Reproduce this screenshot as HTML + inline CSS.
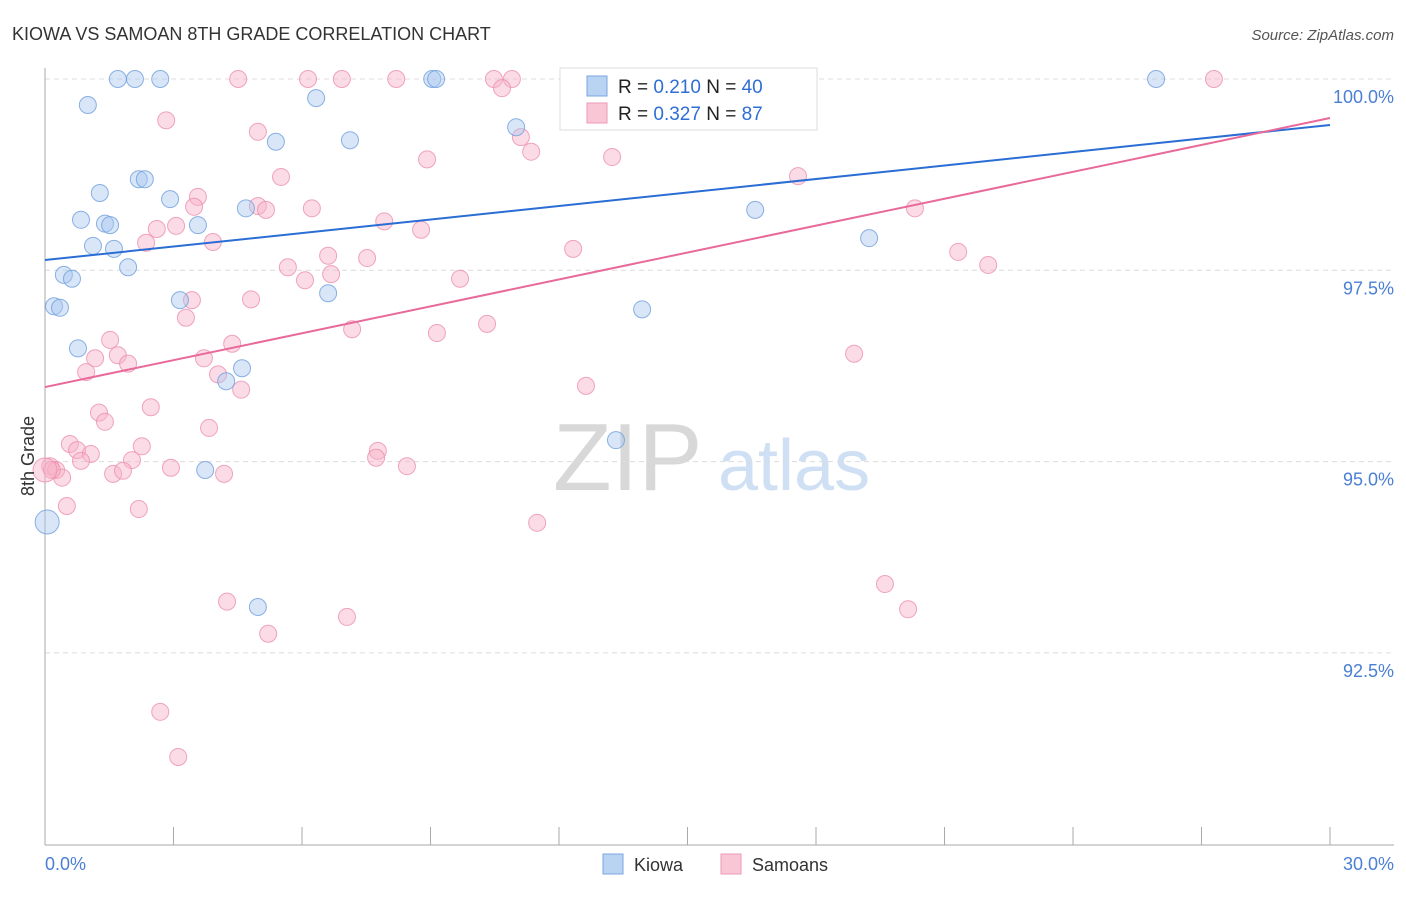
<!DOCTYPE html>
<html><head><meta charset="utf-8"><style>
body{margin:0;background:#fff;font-family:"Liberation Sans",sans-serif;}
svg text{font-family:"Liberation Sans",sans-serif;}
</style></head><body>
<svg id="chart" width="1406" height="892" xmlns="http://www.w3.org/2000/svg">
<text x="12" y="40" font-size="18" fill="#333">KIOWA VS SAMOAN 8TH GRADE CORRELATION CHART</text>
<text x="1394" y="40" font-size="15" fill="#555" text-anchor="end" font-style="italic">Source: ZipAtlas.com</text>
<g>
<text x="553" y="490" font-size="96" fill="#d8d8d8" font-family="Liberation Serif, serif">ZIP</text>
<text x="718" y="490" font-size="72" fill="#cfe0f4">atlas</text>
</g>
<g id="grid"></g><g id="axes"></g><g id="pts"></g><g id="lines"></g>
<text transform="translate(34,456) rotate(-90)" font-size="18" fill="#333" text-anchor="middle">8th Grade</text>
<text x="45" y="870" font-size="18" fill="#4a7fd4">0.0%</text>
<text x="1394" y="870" font-size="18" fill="#4a7fd4" text-anchor="end">30.0%</text>
<g>
<rect x="560" y="68" width="257" height="62" fill="#fff" stroke="#ddd"/>
<rect x="587" y="76" width="20" height="20" fill="#b9d3f3" stroke="#7aa6e0"/>
<rect x="587" y="103" width="20" height="20" fill="#f9c6d6" stroke="#ef9ab6"/>
<text x="618" y="93" font-size="19" fill="#222">R = <tspan fill="#2f6ed3">0.210</tspan>   N = <tspan fill="#2f6ed3">40</tspan></text>
<text x="618" y="120" font-size="19" fill="#222">R = <tspan fill="#2f6ed3">0.327</tspan>   N = <tspan fill="#2f6ed3"> 87</tspan></text>
</g>
<g>
<rect x="603" y="854" width="20" height="20" fill="#b9d3f3" stroke="#7aa6e0"/>
<text x="634" y="871" font-size="18" fill="#333">Kiowa</text>
<rect x="721" y="854" width="20" height="20" fill="#f9c6d6" stroke="#ef9ab6"/>
<text x="752" y="871" font-size="18" fill="#333">Samoans</text>
</g>
</svg>
<script>
const yTicks=[100,97.5,95,92.5];
const yTickLabels=["100.0%","97.5%","95.0%","92.5%"];
const xTicks=[0,3,6,9,12,15,18,21,24,27,30];
const kiowaX=[1.70,2.10,2.69,9.04,9.13,16.18,25.94,1.00,6.33,11.00,7.12,5.39,2.19,2.33,1.28,2.92,0.84,1.40,1.52,3.57,4.69,16.58,19.24,1.12,1.61,1.94,0.44,0.63,0.21,0.35,3.15,6.61,13.94,0.77,4.60,4.23,13.33,3.74,0.05,4.97];
const kiowaY=[100,100,100,100,100,100,100,99.66,99.75,99.37,99.20,99.18,98.69,98.69,98.51,98.43,98.16,98.11,98.09,98.09,98.31,98.29,97.92,97.82,97.78,97.54,97.44,97.39,97.03,97.01,97.11,97.20,96.99,96.48,96.22,96.05,95.28,94.89,94.21,93.10];
const samoanX=[4.51,6.14,6.93,8.20,10.48,10.90,14.01,27.29,10.67,2.83,4.97,11.11,11.35,8.92,13.24,5.51,17.58,3.57,3.48,4.97,5.16,6.23,20.31,7.92,8.78,2.61,3.06,2.36,3.92,12.33,21.32,6.61,7.52,5.67,22.02,6.07,6.68,9.69,3.43,4.81,3.29,7.17,9.15,10.32,1.52,4.37,1.17,1.70,1.94,3.71,0.96,4.04,4.58,12.63,18.89,2.47,1.26,1.40,3.83,0.58,0.75,1.07,2.26,7.77,0.84,2.03,7.73,2.94,8.45,0.12,0.26,0.40,1.59,1.82,4.18,0.51,2.19,11.49,19.61,4.25,20.15,7.05,5.21,2.69,3.11,0.16,0.0];
const samoanY=[100,100,100,100,100,100,100,100,99.88,99.46,99.31,99.24,99.05,98.95,98.98,98.72,98.73,98.46,98.33,98.34,98.29,98.31,98.31,98.14,98.03,98.04,98.08,97.86,97.87,97.78,97.74,97.69,97.66,97.54,97.57,97.37,97.45,97.39,97.11,97.12,96.88,96.73,96.68,96.80,96.59,96.54,96.35,96.39,96.28,96.35,96.17,96.14,95.94,95.99,96.41,95.71,95.64,95.52,95.44,95.23,95.15,95.10,95.20,95.14,95.01,95.02,95.05,94.92,94.94,94.94,94.89,94.79,94.84,94.88,94.84,94.42,94.38,94.20,93.40,93.17,93.07,92.97,92.75,91.73,91.14,94.89,94.89];
const kiowaTrend=[97.634,99.399];
const samoanTrend=[95.974,99.49];
const X0=45,X1=1330,Y100=79,PX=76.52;
const sx=v=>X0+(v/30)*(X1-X0);
const sy=v=>Y100+(100-v)*PX;
const NS="http://www.w3.org/2000/svg";
function mk(t,a,p){const e=document.createElementNS(NS,t);for(const k in a)e.setAttribute(k,a[k]);p.appendChild(e);return e;}
const grid=document.getElementById('grid'),axes=document.getElementById('axes'),pts=document.getElementById('pts'),lines=document.getElementById('lines');
yTicks.forEach((v,i)=>{
 const l=mk('line',{x1:X0,x2:1394,y1:sy(v),y2:sy(v),stroke:'#dcdcdc','stroke-dasharray':'5,4'},grid);
 
 
 const t=mk('text',{x:1394,y:sy(v)+24,'font-size':18,fill:'#4a7fd4','text-anchor':'end'},grid);
 t.textContent=yTickLabels[i];
 
 
});
const ax=mk('line',{x1:X0,x2:1394,y1:845,y2:845,stroke:'#aaa'},axes);


const ay=mk('line',{x1:X0,x2:X0,y1:68,y2:845,stroke:'#aaa'},axes);


xTicks.forEach(v=>{
 const t=mk('line',{x1:sx(v),x2:sx(v),y1:827,y2:845,stroke:'#aaa'},axes);
 
 
});
function drawPts(xs,ys,fill,stroke,name){
 xs.forEach((x,i)=>{
  const r=(x<0.1)?12:8.5;
  const c=mk('circle',{cx:sx(x),cy:sy(ys[i]),r:r,fill:fill,'fill-opacity':0.45,stroke:stroke,'stroke-opacity':0.8,'stroke-width':1},pts);
  
  
 });
}
drawPts(samoanX,samoanY,'#f6b2c8','#ec8fae','samoan-point');
drawPts(kiowaX,kiowaY,'#a9c8f0','#6f9fdc','kiowa-point');
const lk=mk('line',{x1:sx(0),y1:sy(kiowaTrend[0]),x2:sx(30),y2:sy(kiowaTrend[1]),stroke:'#2a6dd4','stroke-width':2},lines);


const lp=mk('line',{x1:sx(0),y1:sy(samoanTrend[0]),x2:sx(30),y2:sy(samoanTrend[1]),stroke:'#e8699a','stroke-width':2},lines);


</script>
</body></html>
